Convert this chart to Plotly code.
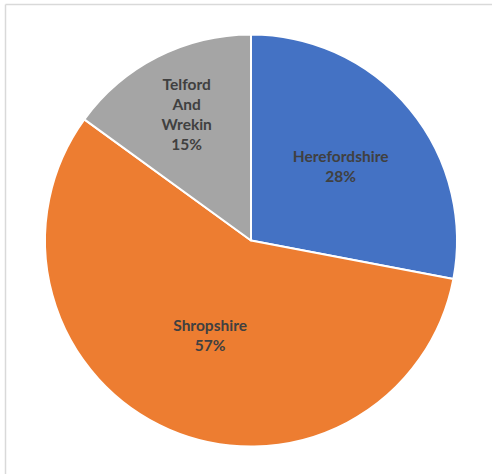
import plotly.graph_objects as go

categories = ["Herefordshire", "Shropshire", "Telford And Wrekin"]
values = [28, 57, 15]
colors = ["#4472C4", "#ED7D31", "#A5A5A5"]

W, H = 492, 474
display = [c.replace(" ", "<br>") for c in categories]

fig = go.Figure(go.Pie(
    labels=categories,
    values=values,
    text=display,
    sort=False,
    direction="clockwise",
    rotation=0,
    marker=dict(colors=colors, line=dict(color="white", width=2)),
    texttemplate="<b>%{text}<br>%{percent:.0%}</b>",
    textposition="inside",
    insidetextorientation="horizontal",
    textfont=dict(family="Lato", size=15.5, color="#404040"),
    hoverinfo="label+percent",
    showlegend=False,
    domain=dict(x=[45 / W, 457 / W], y=[(H - 447) / H, (H - 34) / H]),
))

# chart-area frame: only left and top edges are visible in the reference crop
frame_x = 5.5 / W
frame_y = (H - 4.5) / H
fig.add_shape(type="line", xref="paper", yref="paper",
              x0=frame_x, x1=frame_x, y0=0, y1=frame_y,
              line=dict(color="#D9D9D9", width=1.5), layer="below")
fig.add_shape(type="line", xref="paper", yref="paper",
              x0=frame_x, x1=1, y0=frame_y, y1=frame_y,
              line=dict(color="#D9D9D9", width=1.5), layer="below")

fig.update_layout(
    width=W, height=H,
    margin=dict(l=0, r=0, t=0, b=0),
    paper_bgcolor="white",
    plot_bgcolor="white",
)

fig.write_html("out.html",
               config={"displayModeBar": False},
               post_script="document.body.style.margin='0';document.body.style.overflow='hidden';")
